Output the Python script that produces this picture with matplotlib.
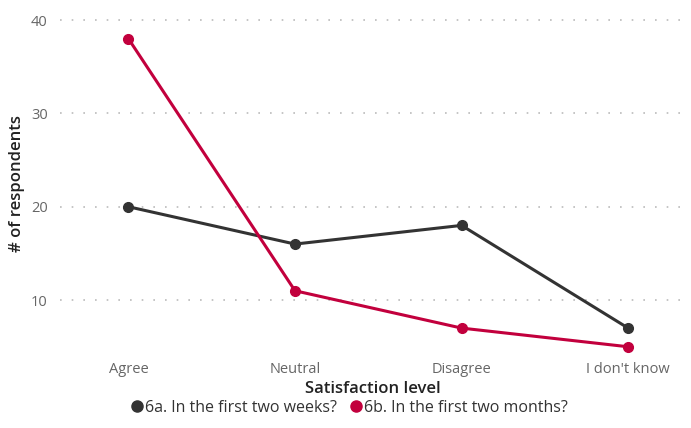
import matplotlib.pyplot as plt
from matplotlib.lines import Line2D

plt.rcParams['font.family'] = ['Open Sans', 'DejaVu Sans']

categorias = ['Agree', 'Neutral', 'Disagree', "I don't know"]
semanas = [20, 16, 18, 7]
meses = [38, 11, 7, 5]
nombres = ['6a. In the first two weeks?', '6b. In the first two months?']
colores = ['#333333', '#C2003D']

fig = plt.figure(figsize=(6.91, 4.28), dpi=100)
ax = fig.add_axes([0.087, 0.168, 0.904, 0.807])

x = range(len(categorias))
ax.plot(x, semanas, color=colores[0], lw=2.2, marker='o', ms=7, zorder=3)
ax.plot(x, meses, color=colores[1], lw=2.2, marker='o', ms=7, zorder=3)

ax.set_xlim(-0.41, 3.34)
ax.set_ylim(4, 41)
ax.set_yticks([10, 20, 30, 40])
ax.set_xticks(list(x))
ax.set_xticklabels(categorias)
ax.tick_params(length=0, labelsize=10.5, labelcolor='#666666', pad=4)
ax.tick_params(axis='y', pad=9)
ax.grid(axis='y', color='#bbbbbb', linestyle=(0, (1, 6)), lw=1.2)
for s in ax.spines.values():
    s.set_visible(False)

ax.set_xlabel('Satisfaction level', fontsize=12, fontweight='semibold', color='#222222', labelpad=3)
ax.set_ylabel('# of respondents', fontsize=12, fontweight='semibold', color='#222222', labelpad=4)

handles = [Line2D([], [], color=c, marker='o', ls='', ms=8) for c in colores]
fig.legend(handles, nombres, loc='center', bbox_to_anchor=(0.505, 0.047), ncol=2, frameon=False,
           fontsize=11.5, handlelength=0.8, handletextpad=0.1, columnspacing=0.8, labelcolor='#333333')

fig.savefig('out.png')
